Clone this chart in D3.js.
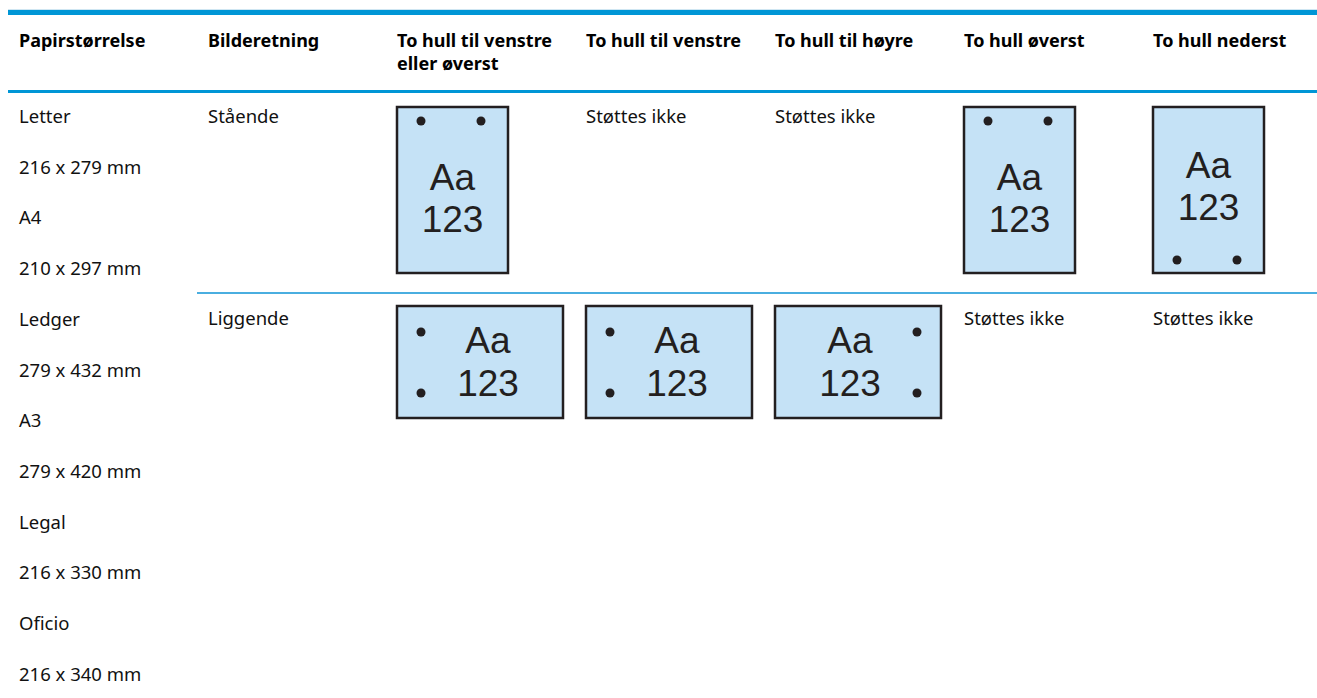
<!DOCTYPE html>
<html>
<head>
<meta charset="utf-8">
<script src="https://cdn.jsdelivr.net/npm/d3@7"></script>
<style>
  html, body { margin: 0; padding: 0; background: #fff; }
  svg { display: block; }
</style>
</head>
<body>
<svg id="chart" width="1317" height="698"></svg>
<script>
// ---- data ----
const columnHeaders = [
  ["Papirstørrelse"],
  ["Bilderetning"],
  ["To hull til venstre", "eller øverst"],
  ["To hull til venstre"],
  ["To hull til høyre"],
  ["To hull øverst"],
  ["To hull nederst"]
];
const paperSizes = [
  "Letter", "216 x 279 mm", "A4", "210 x 297 mm",
  "Ledger", "279 x 432 mm", "A3", "279 x 420 mm",
  "Legal", "216 x 330 mm", "Oficio", "216 x 340 mm"
];
const orientations = ["Stående", "Liggende"];
const orientationShape = ["portrait", "landscape"];
// hole position per finishing column (cols 2..6); "none" = not supported
const portraitHoles = ["top", "none", "none", "top", "bottom"];
const landscapeHoles = ["left", "left", "right", "none", "none"];
const notSupported = "Støttes ikke";
const iconText = ["Aa", "123"];

// ---- layout ----
const svg = d3.select("#chart");
const W = 1317, H = 698;
const blue = "#0096d6";
const ink = "#231f20";
const paperFill = "#c5e2f6";
const fontBody = "'Noto Sans', 'Open Sans', sans-serif";
const fontIcon = "'Liberation Sans', Arial, sans-serif";

const x = d3.scaleBand().domain(d3.range(7)).range([8, 8 + 7 * 189]).padding(0);
const padL = 11;

const headerTop = 10, headerBottom = 91;
const rowTops = [headerBottom, 293];

// header top thick line
svg.append("rect").attr("x", 8).attr("y", headerTop - 1).attr("width", W - 8).attr("height", 1)
  .attr("fill", "#cfe6f2");
svg.append("rect").attr("x", 8).attr("y", headerTop).attr("width", W - 8).attr("height", 5)
  .attr("fill", blue);
// header bottom line
svg.append("rect").attr("x", 8).attr("y", headerBottom - 1).attr("width", W - 8).attr("height", 3)
  .attr("fill", blue);

// header texts
const hdr = svg.append("g");
columnHeaders.forEach((lines, i) => {
  lines.forEach((t, j) => {
    hdr.append("text")
      .attr("x", x(i) + padL)
      .attr("y", 47 + j * 23)
      .attr("font-family", fontBody)
      .attr("font-weight", 700)
      .attr("font-size", 18)
      .attr("fill", "#000")
      .text(t);
  });
});

// paper sizes (merged cell over both rows)
const step = 50.7;
svg.append("g").selectAll("text").data(paperSizes).join("text")
  .attr("x", x(0) + padL)
  .attr("y", (d, i) => 123 + i * step)
  .attr("font-family", fontBody)
  .attr("font-size", 18.5)
  .attr("fill", "#111")
  .text(d => d);

// row separator between orientations (cols 1..6)
svg.append("rect").attr("x", x(1)).attr("y", rowTops[1] - 1).attr("width", W - x(1)).attr("height", 2)
  .attr("fill", "#4aaee0");

// orientation labels
svg.append("g").selectAll("text").data(orientations).join("text")
  .attr("x", x(1) + padL)
  .attr("y", (d, i) => rowTops[i] + 32)
  .attr("font-family", fontBody)
  .attr("font-size", 18.5)
  .attr("fill", "#111")
  .text(d => d);

// icon drawing
function drawIcon(g, shape, holes, x0, y0) {
  const w = shape === "portrait" ? 111 : 166;
  const h = shape === "portrait" ? 166 : 112;
  g.append("rect").attr("x", x0).attr("y", y0).attr("width", w).attr("height", h)
    .attr("fill", paperFill).attr("stroke", ink).attr("stroke-width", 2.5);
  let dots = [], cx = x0 + w / 2, base1, base2;
  if (shape === "portrait") {
    if (holes === "top") {
      dots = [[x0 + 24, y0 + 14], [x0 + w - 27, y0 + 14]];
      base1 = y0 + 83; base2 = y0 + 125;
    } else {
      dots = [[x0 + 24, y0 + h - 13], [x0 + w - 27, y0 + h - 13]];
      base1 = y0 + 71; base2 = y0 + 113;
    }
  } else {
    base1 = y0 + 47; base2 = y0 + 90;
    if (holes === "left") {
      dots = [[x0 + 24, y0 + 26], [x0 + 24, y0 + h - 25]];
      cx = x0 + w / 2 + 8;
    } else {
      dots = [[x0 + w - 24, y0 + 26], [x0 + w - 24, y0 + h - 25]];
      cx = x0 + w / 2 - 8;
    }
  }
  g.selectAll("circle").data(dots).join("circle")
    .attr("cx", d => d[0]).attr("cy", d => d[1]).attr("r", 4.5).attr("fill", ink);
  g.selectAll("text").data(iconText).join("text")
    .attr("x", cx)
    .attr("y", (d, i) => i === 0 ? base1 : base2)
    .attr("text-anchor", "middle")
    .attr("font-family", fontIcon)
    .attr("font-size", 37)
    .attr("fill", ink)
    .text(d => d);
}

[portraitHoles, landscapeHoles].forEach((holesRow, r) => {
  holesRow.forEach((holes, k) => {
    const col = k + 2;
    const g = svg.append("g");
    if (holes === "none") {
      g.append("text")
        .attr("x", x(col) + padL)
        .attr("y", rowTops[r] + 32)
        .attr("font-family", fontBody)
        .attr("font-size", 18.5)
        .attr("fill", "#111")
        .text(notSupported);
    } else {
      drawIcon(g, orientationShape[r], holes, x(col) + padL, rowTops[r] + (r === 0 ? 16 : 13));
    }
  });
});
</script>
</body>
</html>
